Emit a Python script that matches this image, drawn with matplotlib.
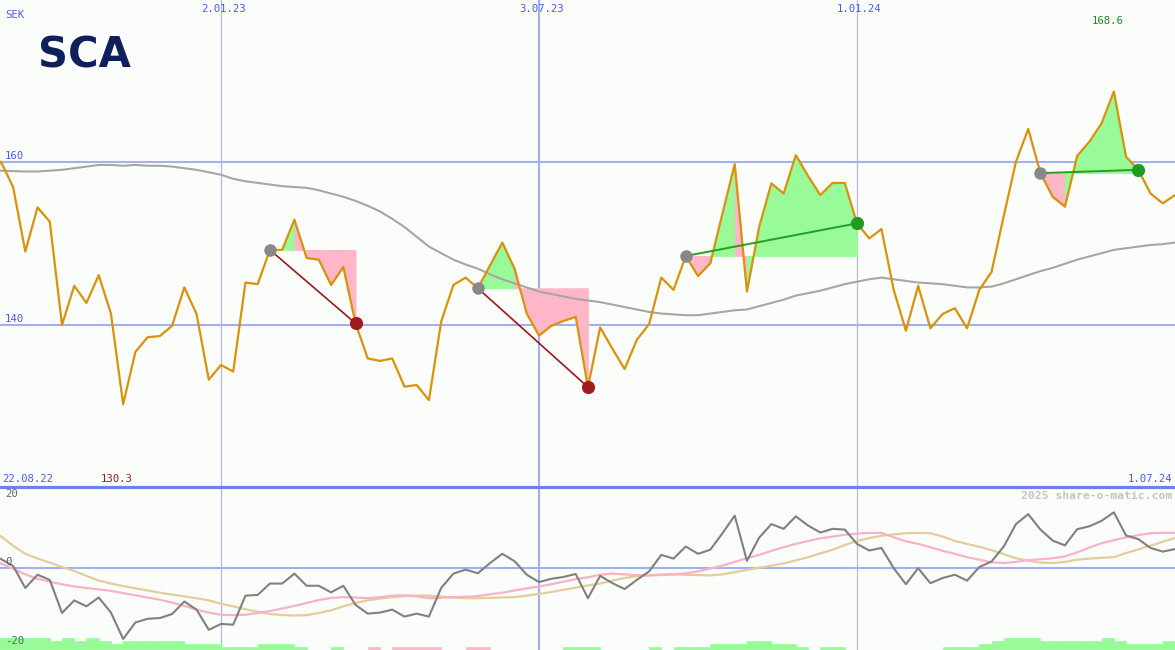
import numpy as np
import pandas as pd
import matplotlib
matplotlib.use('Agg')
import matplotlib.pyplot as plt
import matplotlib.transforms as mtransforms
from matplotlib.lines import Line2D

# ===== data (weekly, first point 22.08.22) =====
START = '2022-08-22'
TICKER = 'SCA'
CURRENCY = 'SEK'

price = [158.0, 160.0, 156.9, 149.0, 154.4, 152.65, 140.0, 144.8, 142.7, 146.1,
         141.4, 130.3, 136.7, 138.5, 138.65, 139.9, 144.6, 141.35, 133.3, 135.1,
         134.3, 145.2, 145.0, 149.2, 149.2, 152.9, 148.2, 148.0, 144.9, 147.1,
         140.2, 135.9, 135.6, 135.9, 132.45, 132.65, 130.8, 140.4, 144.9, 145.8,
         144.5, 147.3, 150.1, 146.9, 141.4, 138.7, 139.9, 140.5, 141.0, 132.4,
         139.7, 137.1, 134.6, 138.2, 140.1, 145.8, 144.3, 148.45, 146.0, 147.55,
         153.65, 159.7, 144.1, 152.0, 157.35, 156.1, 160.8, 158.25, 155.9, 157.4,
         157.4, 152.45, 150.6, 151.75, 144.3, 139.3, 144.8, 139.6, 141.35, 142.05,
         139.6, 144.3, 146.5, 153.35, 160.0, 164.0, 158.6, 155.7, 154.5, 160.7,
         162.45, 164.7, 168.6, 160.6, 159.0, 156.1, 154.9, 155.9]

ma_long = [158.9, 158.9, 158.85, 158.8, 158.8, 158.9, 159.0, 159.2, 159.4, 159.6,
           159.6, 159.5, 159.6, 159.5, 159.5, 159.4, 159.2, 159.0, 158.7, 158.4,
           157.9, 157.6, 157.4, 157.2, 157.0, 156.9, 156.8, 156.5, 156.1, 155.7,
           155.2, 154.6, 153.9, 153.0, 152.0, 150.8, 149.6, 148.8, 148.0, 147.4,
           146.9, 146.2, 145.6, 145.1, 144.6, 144.1, 143.8, 143.5, 143.2, 143.0,
           142.8, 142.5, 142.2, 141.9, 141.6, 141.4, 141.3, 141.2, 141.2, 141.4,
           141.6, 141.8, 141.9, 142.3, 142.7, 143.1, 143.6, 143.9, 144.2, 144.6,
           145.0, 145.3, 145.6, 145.8, 145.6, 145.4, 145.2, 145.1, 145.0, 144.8,
           144.6, 144.6, 144.7, 145.1, 145.6, 146.1, 146.6, 147.0, 147.5, 148.0,
           148.4, 148.8, 149.2, 149.4, 149.6, 149.8, 149.9, 150.1]

momentum = [3.5, 2.4, 0.5, -5.5, -1.9, -3.3, -12.3, -8.9, -10.5, -8.1,
            -12.2, -19.4, -14.9, -13.9, -13.7, -12.6, -9.2, -11.4, -16.9, -15.3,
            -15.5, -7.6, -7.4, -4.3, -4.3, -1.6, -4.9, -4.9, -6.7, -4.9,
            -10.1, -12.5, -12.2, -11.4, -13.3, -12.5, -13.3, -5.5, -1.6, -0.5,
            -1.5, 1.3, 3.8, 1.8, -1.9, -3.9, -3.0, -2.5, -1.7, -8.3,
            -2.2, -4.2, -5.8, -3.3, -1.0, 3.5, 2.5, 5.8, 3.8, 4.9,
            9.4, 14.2, 1.9, 8.2, 11.9, 10.6, 14.0, 11.5, 9.6, 10.6,
            10.4, 6.5, 4.7, 5.4, -0.1, -4.5, -0.1, -4.2, -2.8, -1.9,
            -3.5, 0.2, 1.7, 5.8, 11.9, 14.6, 10.4, 7.4, 6.1, 10.5,
            11.3, 12.8, 15.1, 8.8, 7.8, 5.4, 4.4, 5.1]

mom_fast = [2.5, 1.2, -0.3, -1.8, -3.0, -3.8, -4.5, -5.1, -5.5, -5.9,
            -6.3, -6.9, -7.5, -8.1, -8.7, -9.5, -10.4, -11.4, -12.2, -12.8,
            -12.9, -12.8, -12.3, -11.8, -11.1, -10.4, -9.6, -8.8, -8.2, -8.0,
            -8.1, -8.3, -8.0, -7.6, -7.5, -7.8, -8.3, -8.2, -8.0, -7.9,
            -7.7, -7.2, -6.8, -6.2, -5.6, -5.1, -4.5, -3.8, -3.1, -2.6,
            -1.9, -1.6, -1.8, -2.0, -2.1, -2.0, -1.8, -1.5, -1.0, -0.2,
            0.6, 1.6, 2.6, 3.5, 4.6, 5.6, 6.5, 7.3, 8.0, 8.5,
            9.0, 9.3, 9.5, 9.5, 8.3, 7.2, 6.5, 5.6, 4.6, 3.8,
            2.9, 2.2, 1.5, 1.3, 1.6, 2.1, 2.3, 2.6, 3.1, 4.2,
            5.5, 6.7, 7.5, 8.3, 8.9, 9.4, 9.5, 9.5]

mom_slow = [10.5, 8.6, 6.0, 3.8, 2.5, 1.4, 0.2, -0.9, -2.2, -3.5,
            -4.3, -5.0, -5.6, -6.2, -6.8, -7.3, -7.8, -8.3, -8.9, -9.8,
            -10.5, -11.3, -12.0, -12.6, -12.9, -13.0, -12.9, -12.3, -11.6, -10.5,
            -9.6, -8.9, -8.4, -8.0, -7.7, -7.6, -7.6, -7.8, -8.1, -8.3,
            -8.3, -8.2, -8.1, -8.0, -7.6, -7.1, -6.6, -6.0, -5.4, -4.8,
            -4.3, -3.5, -2.8, -2.3, -2.0, -1.8, -1.8, -1.9, -2.0, -2.1,
            -1.8, -1.2, -0.6, 0.0, 0.6, 1.2, 2.0, 2.9, 3.9, 4.9,
            6.2, 7.3, 8.1, 8.7, 9.1, 9.4, 9.5, 9.4, 8.5, 7.3,
            6.5, 5.7, 4.8, 3.7, 2.6, 1.9, 1.4, 1.3, 1.6, 2.2,
            2.5, 2.7, 2.9, 4.0, 5.0, 6.0, 7.1, 8.1]

# signal strength per week (+ green, - pink)
signal = [4, 4, 4, 4, 4, 3, 4, 3, 4, 3,
          2, 3, 3, 3, 3, 3, 2, 2, 2, 1,
          1, 1, 2, 2, 2, 1, 0, 0, 1, 0,
          0, -1, 0, -1, -1, -1, -1, 0, 0, -1,
          -1, 0, 0, 0, 0, 0, 0, 1, 1, 1,
          0, 0, 0, 0, 1, 0, 1, 1, 1, 2,
          2, 2, 3, 3, 2, 2, 1, 0, 1, 1,
          0, 0, 0, 0, 0, 0, 0, 0, 1, 1,
          1, 2, 3, 4, 4, 4, 3, 3, 3, 3,
          3, 4, 3, 2, 2, 2, 3]

# (entry week, exit week)
trades = [(23, 30), (40, 49), (57, 71), (86, 94)]

grid_dates = ['2023-01-02', '2023-07-03', '2024-01-01']
price_levels = [140, 160]

# ===== style =====
BG = '#fbfdfb'
GRID = '#a2b0f2'
BLUE_TXT = '#4a5cf0'
GREEN_FILL = '#98fb98'
PINK_FILL = '#ffb6c8'
MONO = 'DejaVu Sans Mono'


def fmt_date(d):
    return f"{d.day}.{d.month:02d}.{d.year % 100:02d}"


def main():
    dates = pd.date_range(START, periods=len(price), freq='7D')
    x = np.arange(len(price))
    p = np.array(price)

    fig = plt.figure(figsize=(11.75, 6.5), dpi=100, facecolor=BG)
    ax = fig.add_axes([0, 163 / 650, 1, 487 / 650], facecolor=BG)
    ax2 = fig.add_axes([0, 0, 1, 163 / 650], facecolor=BG)
    for a in (ax, ax2):
        a.set_axis_off()
        a.set_xlim(0.93, len(price) - 1)
    ax.set_ylim(120.16, 179.8)
    ax2.set_ylim(-22.4, 22.0)

    tr = mtransforms.blended_transform_factory(ax.transAxes, ax.transData)
    tr2 = mtransforms.blended_transform_factory(ax2.transAxes, ax2.transData)

    # grid
    for lv in price_levels:
        ax.axhline(lv, color=GRID, lw=1.5, zorder=1)
        ax.text(0.0043, lv + 0.7, str(lv), transform=tr, color=BLUE_TXT,
                fontsize=7.7, family=MONO, va='center', ha='left')
    for d in grid_dates:
        d = pd.Timestamp(d)
        gx = (d - dates[0]).days / 7
        if d.month == 7:
            lw, col = 1.5, '#a2b0f2'
        else:
            lw, col = 0.9, '#b4b8e0'
        ax.axvline(gx, color=col, lw=lw, zorder=1)
        ax2.axvline(gx, color=col, lw=lw, zorder=1)
        ax.text(gx + 0.2, 1 - 9 / 487, fmt_date(d), transform=ax.get_xaxis_transform(),
                color=BLUE_TXT, fontsize=7.7, family=MONO, ha='center', va='center')

    # trades: weekly strips between price and entry level
    for a, b in trades:
        lvl = p[a]
        for i in range(a + 1, b + 1):
            c = GREEN_FILL if p[i] > lvl else PINK_FILL
            ax.fill_between([i - 1, i], [p[i - 1], p[i]], lvl, facecolor=c,
                            edgecolor=c, lw=0.6, zorder=2)

    ax.plot(x, ma_long, color='#a6a6a6', lw=1.5, zorder=3)
    ax.plot(x, p, color='#d8920c', lw=1.6, zorder=4)

    for a, b in trades:
        lvl = p[a]
        win = p[b] > lvl
        lc = '#22a022' if win else '#9a1a1a'
        dc = '#229a22' if win else '#a01c1c'
        ax.plot([a, b], [lvl, p[b]], color=lc, lw=1.4 if win else 1.2, zorder=5)
        ax.plot(a, lvl, 'o', color='#888888', ms=9, mew=0, zorder=6)
        ax.plot(b, p[b], 'o', color=dc, ms=9.5, mew=0, zorder=6)

    # labels in main panel
    ax.text(5 / 1175, 1 - 15 / 487, CURRENCY, transform=ax.transAxes, color=BLUE_TXT,
            fontsize=7.7, family=MONO, va='center', ha='left')
    ax.text(38 / 1175, 1 - 68 / 487, TICKER, transform=ax.transAxes, color='#0f1f5a',
            fontsize=30, fontweight='bold', family='DejaVu Sans', va='baseline', ha='left')
    imax, imin = int(np.argmax(p)), int(np.argmin(p))
    ax.text(imax - 0.5, 1 - 21 / 487, f'{p[imax]:.1f}', transform=ax.get_xaxis_transform(),
            color='#228822', fontsize=7.7, family=MONO, ha='center', va='center')
    ax.text(imin - 0.5, 1 - 479 / 487, f'{p[imin]:.1f}', transform=ax.get_xaxis_transform(),
            color='#a01818', fontsize=7.7, family=MONO, ha='center', va='center')
    ax.text(2 / 1175, 1 - 479 / 487, fmt_date(dates[0]), transform=ax.transAxes,
            color=BLUE_TXT, fontsize=7.7, family=MONO, ha='left', va='center')
    ax.text(1172 / 1175, 1 - 479 / 487, fmt_date(dates[-1]), transform=ax.transAxes,
            color=BLUE_TXT, fontsize=7.7, family=MONO, ha='right', va='center')

    # separator
    fig.add_artist(Line2D([0, 1], [163 / 650, 163 / 650], transform=fig.transFigure,
                          color='#7080ea', lw=2.3, zorder=10))

    # lower panel
    ax2.axhline(0, color=GRID, lw=1.5, zorder=1)
    sig = np.array(signal)
    ybot = ax2.get_ylim()[0]
    cols = [GREEN_FILL if s > 0 else PINK_FILL for s in sig]
    ax2.bar(x[:-1], np.abs(sig) * 0.8, width=1, align='edge', bottom=ybot,
            color=cols, edgecolor=cols, lw=0.5, zorder=1)
    ax2.plot(x, mom_slow, color='#e4cc9c', lw=1.6, zorder=3)
    ax2.plot(x, mom_fast, color='#f8b2c8', lw=1.6, zorder=3)
    ax2.plot(x, momentum, color='#808080', lw=1.5, zorder=4)

    for lv, off in ((20, 0), (0, 1.6), (-20, 0)):
        ax2.text(0.0043, lv + off, str(lv), transform=tr2, color='#606060',
                 fontsize=7.7, family=MONO, va='center', ha='left', zorder=5)
    ax2.text(1172 / 1175, 1 - 9 / 163, '2025 share-o-matic.com', transform=ax2.transAxes,
             color='#c4c4c4', fontsize=8.2, family=MONO, fontweight='bold',
             ha='right', va='center')

    fig.savefig('out.png', dpi=100, facecolor=BG)


if __name__ == '__main__':
    main()
